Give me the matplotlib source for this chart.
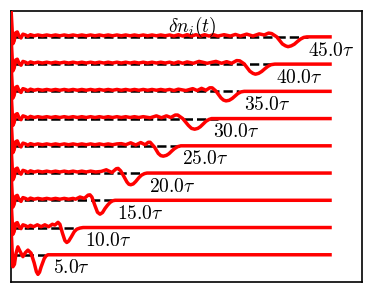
import matplotlib
matplotlib.use("Agg")
import matplotlib.pyplot as plt

plt.rcParams["mathtext.fontset"] = "cm"
plt.rcParams["font.family"] = "serif"

# delays (in tau) and vertical offsets of each trace
delays = [5.0, 10.0, 15.0, 20.0, 25.0, 30.0, 35.0, 40.0, 45.0]
offsets = [1, 2, 3, 4, 5, 6, 7, 8, 9]
label_t = [6.7, 11.8, 16.9, 22.0, 27.3, 32.2, 37.2, 42.3, 47.4]
dash_end = [5.4, 10.2, 16.1, 20.6, 27.0, 33.0, 36.4, 41.8, 47.4]

# initial spike at t=0
start = [(0.0, 1.05), (0.15, 0.4), (0.3, -0.25), (0.5, -0.15), (0.75, 0.15),
         (1.0, 0.18), (1.3, 0.02), (1.6, -0.04), (1.9, 0.1), (2.3, 0.07),
         (2.7, 0.02), (3.1, 0.08)]

# small ripples ahead of the front
ripple = [(3.7, 0.04), (4.3, 0.07), (5.0, 0.04), (5.7, 0.07), (6.4, 0.04),
          (7.1, 0.07), (7.8, 0.04), (8.5, 0.07), (9.2, 0.04), (9.9, 0.07),
          (10.6, 0.04), (11.3, 0.07), (12.0, 0.04), (12.7, 0.07), (13.4, 0.04),
          (14.1, 0.07), (14.8, 0.04), (15.5, 0.07), (16.2, 0.04), (16.9, 0.07),
          (17.6, 0.04), (18.3, 0.07), (19.0, 0.04), (19.7, 0.07), (20.4, 0.04),
          (21.1, 0.07), (21.8, 0.04), (22.5, 0.07), (23.2, 0.04), (23.9, 0.07),
          (24.6, 0.04), (25.3, 0.07), (26.0, 0.03), (26.7, 0.08), (27.4, 0.03),
          (28.1, 0.08), (28.8, 0.03), (29.5, 0.08), (30.2, 0.03), (30.9, 0.08),
          (31.6, 0.03), (32.3, 0.08), (33.0, 0.03)]

c05 = [(0.0, 1.05), (0.15, 0.3), (0.3, -0.44), (0.55, -0.35), (0.8, 0.05),
       (1.1, 0.29), (1.5, 0.1), (1.9, -0.07), (2.3, 0.08), (2.7, 0.17),
       (3.2, 0.06), (3.7, -0.3), (4.05, -0.62), (4.3, -0.72), (4.55, -0.64),
       (4.8, -0.45), (5.3, -0.14), (5.6, -0.04), (5.9, 0.0), (50.9, 0.0)]

c10 = start + [(3.6, 0.03), (4.2, 0.1), (4.8, 0.03), (5.4, 0.1), (6.0, 0.03),
               (6.6, 0.12), (7.0, 0.09), (7.5, 0.19), (7.8, 0.12), (8.2, -0.2),
               (8.6, -0.48), (8.9, -0.55), (9.2, -0.5), (9.6, -0.35),
               (10.1, -0.15), (10.5, -0.06), (11.0, -0.02), (11.5, 0.0),
               (50.9, 0.0)]

c15 = start + [p for p in ripple if p[0] < 10.0] + [
    (10.3, 0.04), (11.0, 0.12), (11.7, 0.07), (12.3, 0.19), (12.6, 0.2),
    (12.9, 0.12), (13.4, -0.2), (13.8, -0.44), (14.2, -0.51), (14.6, -0.45),
    (15.0, -0.3), (15.4, -0.18), (15.8, -0.08), (16.2, -0.02), (16.6, 0.0),
    (50.9, 0.0)]

c20 = start + [p for p in ripple if p[0] < 13.0] + [
    (13.5, 0.04), (14.4, 0.06), (15.2, 0.12), (16.1, 0.02), (16.8, 0.16),
    (17.1, 0.17), (17.5, 0.08), (17.9, -0.08), (18.5, -0.33), (18.8, -0.41),
    (19.1, -0.43), (19.5, -0.4), (19.9, -0.31), (20.4, -0.17), (20.8, -0.08),
    (21.3, -0.02), (21.7, 0.0), (50.9, 0.0)]

c25 = start + [p for p in ripple if p[0] < 17.0] + [
    (17.6, 0.08), (18.3, 0.04), (19.1, 0.11), (19.9, 0.03), (20.7, 0.12),
    (21.4, 0.04), (21.9, 0.13), (22.2, 0.13), (22.9, -0.05), (23.5, -0.28),
    (23.9, -0.36), (24.3, -0.38), (24.8, -0.35), (25.2, -0.29), (25.7, -0.18),
    (26.1, -0.1), (26.6, -0.03), (27.1, 0.0), (50.9, 0.0)]

c30 = start + [p for p in ripple if p[0] < 21.5] + [
    (22.2, 0.03), (23.2, 0.1), (24.0, 0.03), (24.8, 0.1), (25.5, 0.04),
    (26.2, 0.13), (26.6, 0.13), (27.4, 0.0), (28.3, -0.25), (28.8, -0.36),
    (29.3, -0.39), (29.8, -0.36), (30.2, -0.3), (30.7, -0.19), (31.1, -0.1),
    (31.6, -0.03), (32.0, 0.0), (50.9, 0.0)]

c35 = start + [p for p in ripple if p[0] < 27.0] + [
    (27.9, 0.03), (29.0, 0.1), (29.7, 0.03), (30.4, 0.11), (31.1, 0.04),
    (31.7, 0.13), (32.1, 0.13), (32.7, 0.01), (33.5, -0.24), (33.9, -0.32),
    (34.3, -0.35), (34.8, -0.33), (35.3, -0.26), (35.8, -0.16), (36.2, -0.08),
    (36.7, -0.02), (37.2, 0.0), (50.9, 0.0)]

c40 = start + [p for p in ripple if p[0] < 28.5] + [
    (29.1, 0.03), (30.0, 0.1), (31.3, 0.03), (32.7, 0.1), (33.6, 0.03),
    (34.4, 0.09), (35.2, 0.03), (36.0, 0.13), (36.5, 0.12), (37.2, 0.01),
    (38.1, -0.26), (38.6, -0.34), (39.0, -0.37), (39.5, -0.34), (40.0, -0.27),
    (40.5, -0.17), (41.0, -0.08), (41.5, -0.02), (42.1, 0.0), (50.9, 0.0)]

c45 = start + ripple + [
    (34.0, 0.08), (35.0, 0.03), (35.8, 0.09), (36.6, 0.03), (37.6, 0.1),
    (38.6, 0.03), (39.6, 0.11), (40.4, 0.07), (41.1, 0.14), (41.6, 0.12),
    (42.4, 0.0), (43.3, -0.26), (43.8, -0.33), (44.2, -0.36), (44.7, -0.33),
    (45.2, -0.27), (45.7, -0.17), (46.2, -0.08), (46.7, -0.02), (47.2, 0.0),
    (50.9, 0.0)]

curves = [c05, c10, c15, c20, c25, c30, c35, c40, c45]

fig = plt.figure(figsize=(3.73, 2.94), dpi=100)
ax = fig.add_axes([11 / 373, 12 / 294, 351 / 373, 271 / 294])

for d, off, lt, de, c in zip(delays, offsets, label_t, dash_end, curves):
    ax.plot([0, de], [off, off], "k--", lw=1.8, zorder=2)
    t = [p[0] for p in c]
    v = [p[1] + off for p in c]
    ax.plot(t, v, color="red", lw=2.5, zorder=3, solid_joinstyle="round")
    ax.text(lt, off - 0.17, r"$%.1f\tau$" % d, fontsize=14, ha="left", va="top")

ax.text(28.95, 9.38, r"$\delta n_i(t)$", fontsize=14, ha="center", va="center")

ax.set_xlim(0, 56)
ax.set_ylim(0, 9.95)
ax.set_xticks([])
ax.set_yticks([])
for s in ax.spines.values():
    s.set_linewidth(1.2)

fig.savefig("out.png", dpi=100)
